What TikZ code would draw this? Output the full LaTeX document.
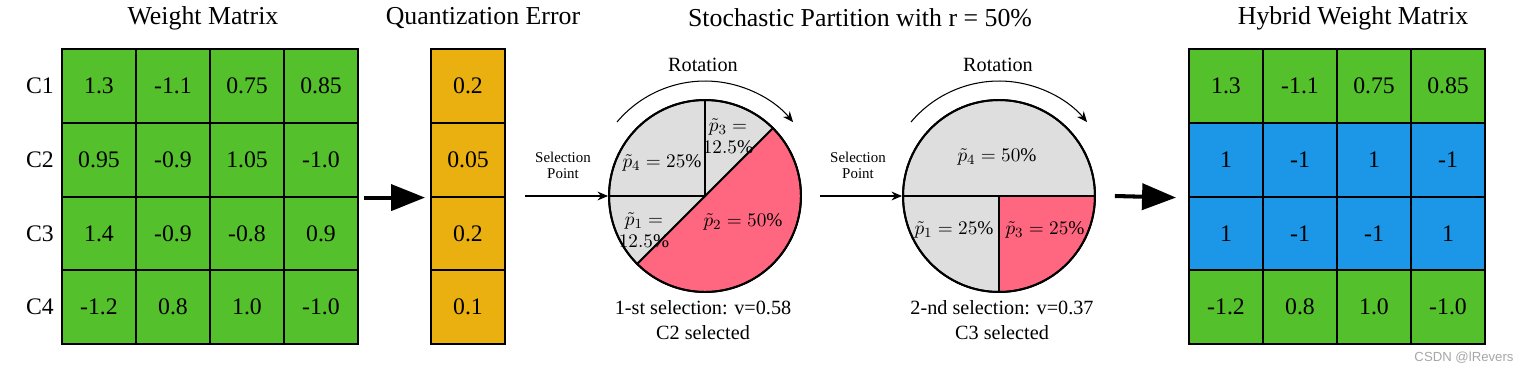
\documentclass[tikz,border=0pt]{standalone}
\usepackage{fontspec}
\setmainfont{Liberation Serif}
\newfontfamily\marksans{Liberation Sans}
\usepackage{tikz}
\usetikzlibrary{arrows.meta,positioning}
\definecolor{wgreen}{RGB}{84,192,44}
\definecolor{qorange}{RGB}{234,176,16}
\definecolor{hblue}{RGB}{28,150,230}
\definecolor{pred}{RGB}{255,102,128}
\definecolor{pgrey}{RGB}{222,222,222}

\begin{document}
\begin{tikzpicture}[x=0.02cm,y=0.02cm,
    title/.style={font=\fontsize{14.7}{17}\selectfont},
    rowlab/.style={font=\fontsize{13.5}{16}\selectfont},
    cell/.style={draw, line width=1.1pt, minimum width=1.48cm, minimum height=1.475cm,
        inner sep=0pt, font=\fontsize{13.5}{16}\selectfont},
    pie/.style={circle, draw, line width=1.1pt, minimum size=3.84cm, inner sep=0pt},
    slice/.style={draw, line width=1.1pt},
    plab/.style={font=\fontsize{11}{12.5}\selectfont, align=center, inner sep=0pt},
    caption/.style={font=\fontsize{11.5}{13.8}\selectfont, align=center},
    small/.style={font=\fontsize{8.5}{9}\selectfont, align=center},
    bigarrow/.style={line width=2.3pt, -{Triangle[length=0.68cm,width=0.52cm]}},
    selarrow/.style={line width=0.6pt, -{Stealth[length=6pt,width=5pt]}},
    rotarrow/.style={line width=0.6pt, -{Stealth[length=6pt,width=5pt]}}]
\useasboundingbox (0,0) rectangle (1524,373);

% weight matrix
\node[title] (wmt) at (203,355) {Weight Matrix};
\foreach \r/\va/\vb/\vc/\vd in {1/1.3/-1.1/0.75/0.85,2/0.95/-0.9/1.05/-1.0,3/1.4/-0.9/-0.8/0.9,4/-1.2/0.8/1.0/-1.0} {
    \node[rowlab] (c\r) at (40,{287-73.75*(\r-1)}) {C\r};
    \foreach \v [count=\k] in {\va,\vb,\vc,\vd}
        \node[cell, fill=wgreen] (w-\r-\k) at ({99+74*(\k-1)},{287-73.75*(\r-1)}) {\v};
}

% quantization error
\node[title] (qet) at (483,355) {Quantization Error};
\foreach \r/\v in {1/0.2,2/0.05,3/0.2,4/0.1}
    \node[cell, fill=qorange] (q-\r) at (468,{287-73.75*(\r-1)}) {\v};
\draw[bigarrow] ([xshift=0.1cm]w-2-4.south east) -- ([xshift=-0.1cm]q-2.south west);

% stochastic partition
\node[title] (spt) at (860,355) {Stochastic Partition with r = 50\%};

% first pie
\coordinate (p1c) at (705,177);
\filldraw[slice, fill=pred] (p1c) -- ++(45:1.92cm) arc[start angle=45, end angle=-135, radius=1.92cm] -- cycle;
\filldraw[slice, fill=pgrey] (p1c) -- ++(45:1.92cm) arc[start angle=45, end angle=90, radius=1.92cm] -- cycle;
\filldraw[slice, fill=pgrey] (p1c) -- ++(90:1.92cm) arc[start angle=90, end angle=180, radius=1.92cm] -- cycle;
\filldraw[slice, fill=pgrey] (p1c) -- ++(180:1.92cm) arc[start angle=180, end angle=225, radius=1.92cm] -- cycle;
\node[pie] (pie1) at (p1c) {};
\node[plab] (p13) at (728,237) {$\tilde{p}_3=$\\$12.5\%$};
\node[plab] (p14) at (662,210) {$\tilde{p}_4=25\%$};
\node[plab] (p11) at (644,143) {$\tilde{p}_1=$\\$12.5\%$};
\node[plab] (p12) at (743,151) {$\tilde{p}_2=50\%$};
\node[caption] (rot1) at (703,308) {Rotation};
\draw[rotarrow] ([shift={(140:2.3cm)}]p1c) arc[start angle=140, end angle=40, radius=2.3cm];
\node[caption] (sel1) at (703,53) {1-st selection: v=0.58\\C2 selected};
\coordinate (sp1) at (525,177);
\draw[selarrow] (sp1) -- (pie1.west);
\node[small] (spl1) at (563,208) {Selection\\Point};

% second pie
\coordinate (p2c) at (999,177);
\filldraw[slice, fill=pgrey] (p2c) -- ++(0:1.92cm) arc[start angle=0, end angle=180, radius=1.92cm] -- cycle;
\filldraw[slice, fill=pgrey] (p2c) -- ++(180:1.92cm) arc[start angle=180, end angle=270, radius=1.92cm] -- cycle;
\filldraw[slice, fill=pred] (p2c) -- ++(270:1.92cm) arc[start angle=270, end angle=360, radius=1.92cm] -- cycle;
\node[pie] (pie2) at (p2c) {};
\node[plab] (p24) at (997,216) {$\tilde{p}_4=50\%$};
\node[plab] (p21) at (954,143) {$\tilde{p}_1=25\%$};
\node[plab] (p23) at (1045,143) {$\tilde{p}_3=25\%$};
\node[caption] (rot2) at (998,308) {Rotation};
\draw[rotarrow] ([shift={(140:2.3cm)}]p2c) arc[start angle=140, end angle=40, radius=2.3cm];
\node[caption] (sel2) at (1002,53) {2-nd selection: v=0.37\\C3 selected};
\coordinate (sp2) at (820,177);
\draw[selarrow] (sp2) -- (pie2.west);
\node[small] (spl2) at (858,208) {Selection\\Point};

% hybrid weight matrix
\node[title] (hmt) at (1353,355) {Hybrid Weight Matrix};
\foreach \r/\col/\va/\vb/\vc/\vd in {1/wgreen/1.3/-1.1/0.75/0.85,2/hblue/1/-1/1/-1,3/hblue/1/-1/-1/1,4/wgreen/-1.2/0.8/1.0/-1.0} {
    \foreach \v [count=\k] in {\va,\vb,\vc,\vd}
        \node[cell, fill=\col] (h-\r-\k) at ({1226+74*(\k-1)},{287-73.75*(\r-1)}) {\v};
}
\draw[bigarrow] ([xshift=0.38cm]pie2.east) -- ([xshift=-0.24cm]h-2-1.south west);

\node[font=\marksans\fontsize{7.5}{9}\selectfont, text=black!35] (mark) at (1464,15) {CSDN @lRevers};
\end{tikzpicture}
\end{document}
